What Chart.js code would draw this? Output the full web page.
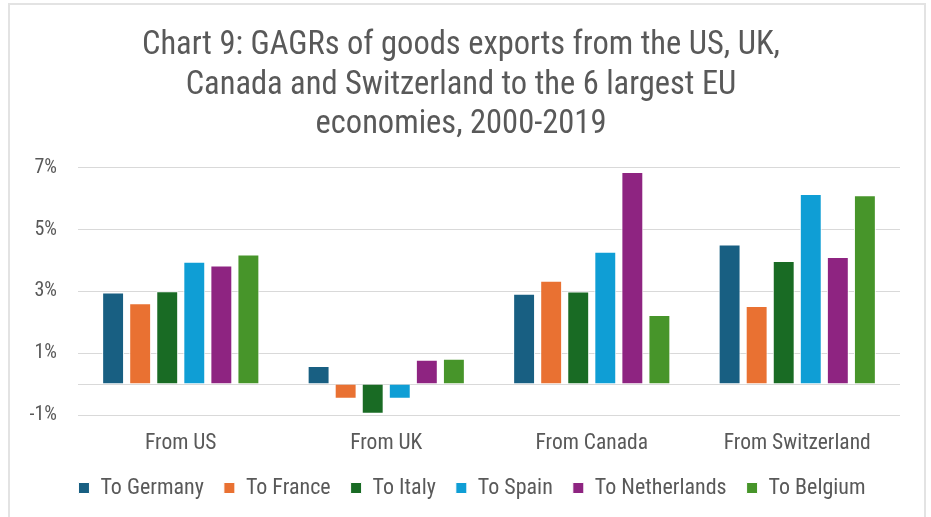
<!DOCTYPE html>
<html>
<head>
<meta charset="utf-8">
<script src="https://cdn.jsdelivr.net/npm/chart.js@4/dist/chart.umd.min.js"></script>
<style>
  html, body { margin: 0; padding: 0; background: #fff; }
  #wrap { position: relative; width: 931px; height: 517px; }
  #frame {
    position: absolute; left: 8px; top: 3px; width: 918px; height: 520px;
    border-top: 2px solid #e3e3e3; border-left: 2px solid #e3e3e3; border-right: 2px solid #e3e3e3;
    box-sizing: border-box;
  }
  canvas { position: absolute; left: 0; top: 0; }
</style>
</head>
<body>
<div id="wrap">
  <div id="frame"></div>
  <canvas id="gagrChart" width="931" height="517"></canvas>
</div>
<script>
document.addEventListener("DOMContentLoaded", function() {
  // exporters along the x axis, one series per EU destination
  const origins = ['From US', 'From UK', 'From Canada', 'From Switzerland'];
  const destinations = ['To Germany', 'To France', 'To Italy', 'To Spain', 'To Netherlands', 'To Belgium'];

  // compound annual growth rates, %
  const toGermany     = [2.97, 0.59, 2.93, 4.52];
  const toFrance      = [2.62, -0.47, 3.35, 2.53];
  const toItaly       = [3.01, -0.96, 3.00, 3.99];
  const toSpain       = [3.96, -0.47, 4.29, 6.16];
  const toNetherlands = [3.84, 0.79, 6.87, 4.12];
  const toBelgium     = [4.20, 0.82, 2.24, 6.12];

  const seriesValues = [toGermany, toFrance, toItaly, toSpain, toNetherlands, toBelgium];
  const seriesColors = ['#185f82', '#e97132', '#196b24', '#0f9ed5', '#8e2481', '#47952a'];

  const titleLines = [
    'Chart 9: GAGRs of goods exports from the US, UK,',
    'Canada and Switzerland to the 6 largest EU',
    'economies, 2000-2019'
  ];

  const narrow = '"Liberation Sans Narrow", "Roboto Condensed", "Arial Narrow", "Liberation Sans", sans-serif';
  const textGrey = '#595959';

  // title and legend sit centred on the whole frame, not on the plot area
  const centreOnFrame = {
    id: 'centreOnFrame',
    afterLayout(chart) {
      if (chart.titleBlock) { chart.titleBlock.left += 6; chart.titleBlock.right += 6; }
      if (chart.legend) { chart.legend.left += 17; chart.legend.right += 17; }
    }
  };

  const ctx = document.getElementById('gagrChart').getContext('2d');
  new Chart(ctx, {
    type: 'bar',
    data: {
      labels: origins,
      datasets: destinations.map(function(name, i) {
        return {
          label: name,
          data: seriesValues[i],
          backgroundColor: seriesColors[i],
          borderColor: '#ffffff',
          borderWidth: 1,
          categoryPercentage: 0.79,
          barPercentage: 0.81
        };
      })
    },
    plugins: [centreOnFrame],
    options: {
      responsive: false,
      animation: false,
      layout: { padding: { left: 10, right: 31, bottom: 8 } },
      plugins: {
        title: {
          display: true,
          text: titleLines,
          color: textGrey,
          font: { family: narrow, size: 32.5, weight: 'normal', lineHeight: 1.22 },
          padding: { top: 26, bottom: 23 }
        },
        legend: {
          position: 'bottom',
          labels: {
            color: textGrey,
            font: { family: narrow, size: 22 },
            boxWidth: 11,
            boxHeight: 11,
            padding: 20
          }
        },
        tooltip: { enabled: false }
      },
      scales: {
        x: {
          afterFit: function(scale) { scale.height = 42; },
          grid: { display: false, drawTicks: false },
          border: { display: false },
          ticks: { color: textGrey, font: { family: narrow, size: 21.5 }, padding: 16 }
        },
        y: {
          min: -1,
          max: 7,
          afterFit: function(scale) { scale.width = 68; },
          border: { display: false },
          grid: {
            drawTicks: false,
            color: function(c) {
              const v = c.tick.value;
              return (v === 0 || Math.abs(v % 2) === 1) ? '#d9d9d9' : 'rgba(0,0,0,0)';
            },
            lineWidth: 1
          },
          ticks: {
            stepSize: 1,
            color: textGrey,
            font: { family: narrow, size: 20 },
            padding: 21,
            callback: function(v) {
              return Math.abs(v % 2) === 1 ? v + '%' : '';
            }
          }
        }
      }
    }
  });
});
</script>
</body>
</html>
